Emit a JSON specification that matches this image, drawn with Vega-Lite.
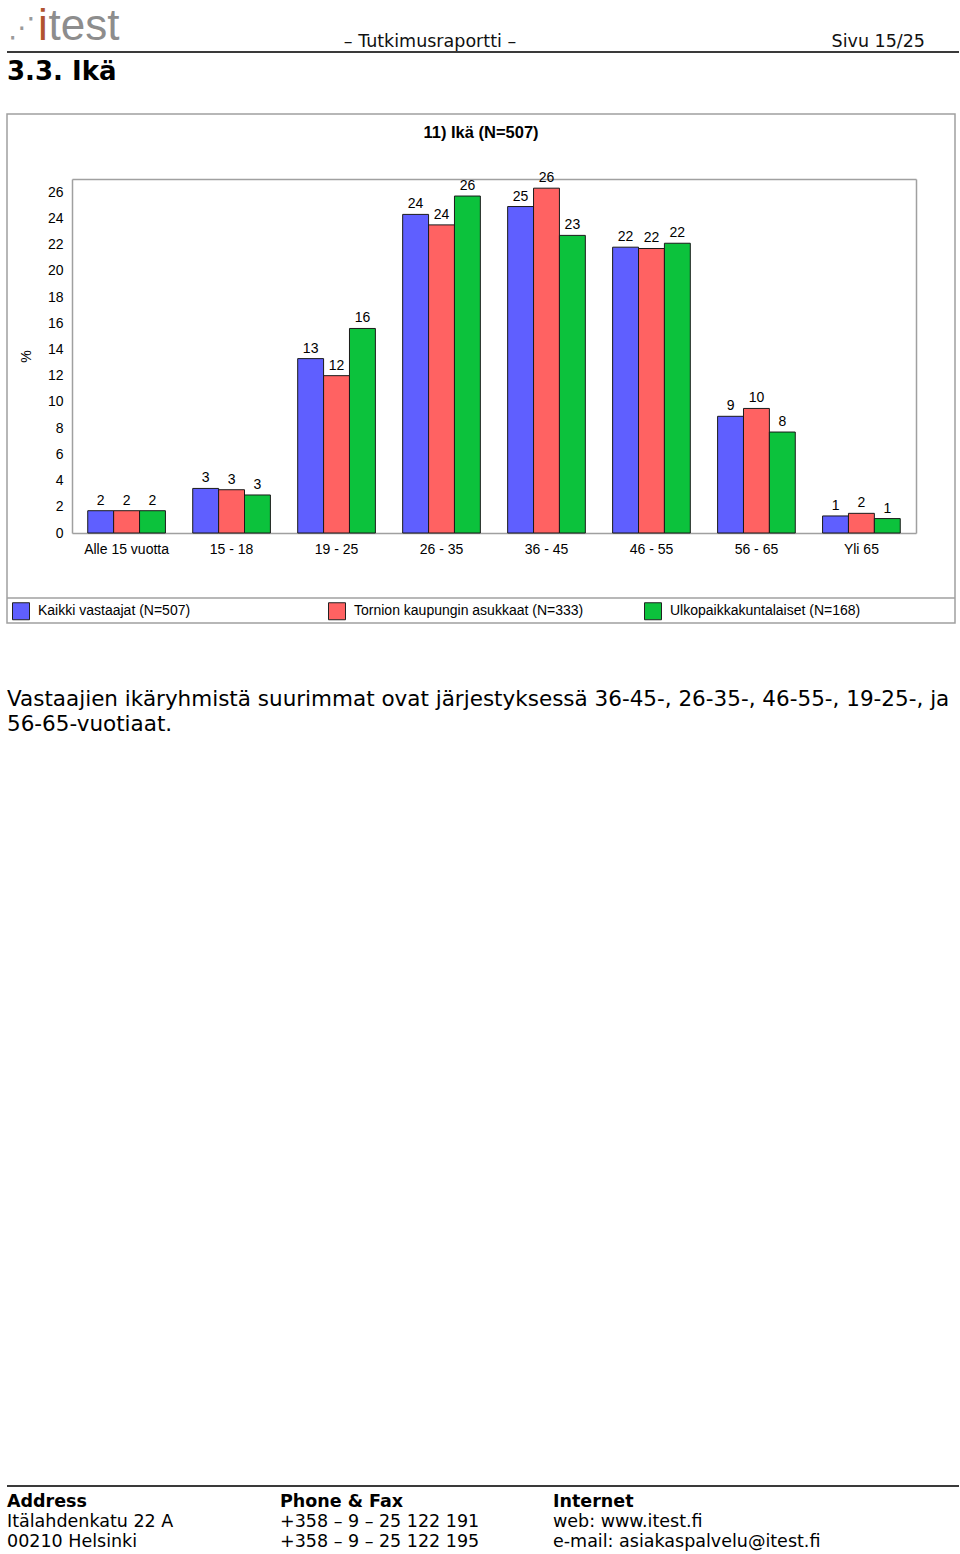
{
  "$schema": "https://vega.github.io/schema/vega-lite/v6.json",
  "padding": {"left": 5, "top": 0, "right": 0, "bottom": 0},
  "background": "white",
  "spacing": 0,
  "bounds": "flush",
  "resolve": {"scale": {"color": "independent"}, "legend": {"color": "independent"}},
  "datasets": {
    "bars": [
      {"age": "Alle 15 vuotta", "group": "Kaikki vastaajat (N=507)", "pct": 1.7, "label": "2"},
      {"age": "Alle 15 vuotta", "group": "Tornion kaupungin asukkaat (N=333)", "pct": 1.7, "label": "2"},
      {"age": "Alle 15 vuotta", "group": "Ulkopaikkakuntalaiset (N=168)", "pct": 1.7, "label": "2"},
      {"age": "15 - 18", "group": "Kaikki vastaajat (N=507)", "pct": 3.4, "label": "3"},
      {"age": "15 - 18", "group": "Tornion kaupungin asukkaat (N=333)", "pct": 3.3, "label": "3"},
      {"age": "15 - 18", "group": "Ulkopaikkakuntalaiset (N=168)", "pct": 2.9, "label": "3"},
      {"age": "19 - 25", "group": "Kaikki vastaajat (N=507)", "pct": 13.3, "label": "13"},
      {"age": "19 - 25", "group": "Tornion kaupungin asukkaat (N=333)", "pct": 12.0, "label": "12"},
      {"age": "19 - 25", "group": "Ulkopaikkakuntalaiset (N=168)", "pct": 15.6, "label": "16"},
      {"age": "26 - 35", "group": "Kaikki vastaajat (N=507)", "pct": 24.3, "label": "24"},
      {"age": "26 - 35", "group": "Tornion kaupungin asukkaat (N=333)", "pct": 23.5, "label": "24"},
      {"age": "26 - 35", "group": "Ulkopaikkakuntalaiset (N=168)", "pct": 25.7, "label": "26"},
      {"age": "36 - 45", "group": "Kaikki vastaajat (N=507)", "pct": 24.9, "label": "25"},
      {"age": "36 - 45", "group": "Tornion kaupungin asukkaat (N=333)", "pct": 26.3, "label": "26"},
      {"age": "36 - 45", "group": "Ulkopaikkakuntalaiset (N=168)", "pct": 22.7, "label": "23"},
      {"age": "46 - 55", "group": "Kaikki vastaajat (N=507)", "pct": 21.8, "label": "22"},
      {"age": "46 - 55", "group": "Tornion kaupungin asukkaat (N=333)", "pct": 21.7, "label": "22"},
      {"age": "46 - 55", "group": "Ulkopaikkakuntalaiset (N=168)", "pct": 22.1, "label": "22"},
      {"age": "56 - 65", "group": "Kaikki vastaajat (N=507)", "pct": 8.9, "label": "9"},
      {"age": "56 - 65", "group": "Tornion kaupungin asukkaat (N=333)", "pct": 9.5, "label": "10"},
      {"age": "56 - 65", "group": "Ulkopaikkakuntalaiset (N=168)", "pct": 7.7, "label": "8"},
      {"age": "Yli 65", "group": "Kaikki vastaajat (N=507)", "pct": 1.3, "label": "1"},
      {"age": "Yli 65", "group": "Tornion kaupungin asukkaat (N=333)", "pct": 1.5, "label": "2"},
      {"age": "Yli 65", "group": "Ulkopaikkakuntalaiset (N=168)", "pct": 1.1, "label": "1"}
    ],
    "page": [
      {"item": "dots", "slot": "left", "row": "logo", "text": "⋰"},
      {"item": "logo", "slot": "left", "row": "logo", "text": "test"},
      {"item": "logoi", "slot": "left", "row": "logo", "text": "i"},
      {"item": "doc", "slot": "mid", "row": "text", "text": "– Tutkimusraportti –"},
      {"item": "pageno", "slot": "right", "row": "text", "text": "Sivu 15/25"},
      {"item": "section", "slot": "left", "row": "text", "text": "3.3. Ikä"},
      {"item": "para", "slot": "left", "row": "1", "text": "Vastaajien ikäryhmistä suurimmat ovat järjestyksessä 36-45-, 26-35-, 46-55-, 19-25-, ja"},
      {"item": "para", "slot": "left", "row": "2", "text": "56-65-vuotiaat."}
    ],
    "footer": [
      {"col": "address", "row": "0", "text": "Address"},
      {"col": "phone", "row": "0", "text": "Phone & Fax"},
      {"col": "internet", "row": "0", "text": "Internet"},
      {"col": "address", "row": "1", "text": "Itälahdenkatu 22 A"},
      {"col": "phone", "row": "1", "text": "+358 – 9 – 25 122 191"},
      {"col": "internet", "row": "1", "text": "web: www.itest.fi"},
      {"col": "address", "row": "2", "text": "00210 Helsinki"},
      {"col": "phone", "row": "2", "text": "+358 – 9 – 25 122 195"},
      {"col": "internet", "row": "2", "text": "e-mail: asiakaspalvelu@itest.fi"}
    ]
  },
  "vconcat": [
    {
      "width": 952, "height": 51,
      "data": {"name": "page"},
      "encoding": {
        "x": {"field": "slot", "type": "nominal", "scale": {"type": "point", "domain": ["left", "mid", "right"], "range": [0, 918], "padding": 0}, "axis": null},
        "y": {"field": "row", "type": "nominal", "scale": {"type": "point", "domain": ["logo", "text"], "range": [40, 47], "padding": 0}, "axis": null},
        "text": {"field": "text"}
      },
      "layer": [
        {"transform": [{"filter": "datum.item == 'dots'"}], "mark": {"type": "text", "align": "left", "baseline": "alphabetic", "font": "DejaVu Sans", "fontSize": 28, "color": "#9a9a9a", "dx": 1, "dy": -3}},
        {"transform": [{"filter": "datum.item == 'logoi'"}], "mark": {"type": "text", "align": "left", "baseline": "alphabetic", "font": "Liberation Sans", "fontSize": 44, "color": "#b0532f", "dx": 31}},
        {"transform": [{"filter": "datum.item == 'logo'"}], "mark": {"type": "text", "align": "left", "baseline": "alphabetic", "font": "Liberation Sans", "fontSize": 44, "color": "#8d8d8d", "dx": 41.5}},
        {"transform": [{"filter": "datum.item == 'doc'"}], "mark": {"type": "text", "align": "center", "baseline": "alphabetic", "font": "DejaVu Sans", "fontSize": 17.5, "color": "#111", "dx": -36}},
        {"transform": [{"filter": "datum.item == 'pageno'"}], "mark": {"type": "text", "align": "right", "baseline": "alphabetic", "font": "DejaVu Sans", "fontSize": 17.5, "color": "#111"}}
      ]
    },
    {
      "width": 952, "height": 2,
      "data": {"values": [{}]},
      "mark": {"type": "point", "opacity": 0},
      "encoding": {},
      "view": {"fill": "#3a3a3a", "stroke": null}
    },
    {
      "width": 952, "height": 61,
      "data": {"name": "page"},
      "transform": [{"filter": "datum.item == 'section'"}],
      "mark": {"type": "text", "align": "left", "baseline": "alphabetic", "font": "DejaVu Sans", "fontSize": 26, "fontWeight": "bold", "color": "#000"},
      "encoding": {
        "x": {"field": "slot", "type": "nominal", "scale": {"type": "point", "domain": ["left", "mid", "right"], "range": [0, 918], "padding": 0}, "axis": null},
        "y": {"field": "row", "type": "nominal", "scale": {"type": "point", "domain": ["text"], "range": [27, 27], "padding": 0}, "axis": null},
        "text": {"field": "text"}
      }
    },
    {
      "width": 948, "height": 509,
      "view": {"stroke": "#a0a0a0", "strokeWidth": 1.5},
      "title": {"text": "11) Ikä (N=507)", "frame": "group", "anchor": "middle", "orient": "top", "offset": -27, "font": "Liberation Sans", "fontSize": 16.5, "fontWeight": "bold", "color": "#000"},
      "data": {"name": "bars"},
      "layer": [
        {
          "mark": {"type": "bar", "stroke": "#1a1a1a", "strokeWidth": 1},
          "encoding": {
            "x": {"field": "age", "type": "nominal", "sort": null,
                  "scale": {"type": "band", "range": [65, 909], "paddingInner": 0.26, "paddingOuter": 0.15},
                  "axis": {"orient": "bottom", "offset": -90, "title": null, "labelAngle": 0, "ticks": false, "labelPadding": 9, "domainColor": "#a0a0a0", "domainWidth": 1.5, "labelFont": "Liberation Sans", "labelFontSize": 14, "labelColor": "#000"}},
            "xOffset": {"field": "group", "type": "nominal", "sort": null, "scale": {"paddingInner": 0, "paddingOuter": 0}},
            "y": {"field": "pct", "type": "quantitative",
                  "scale": {"domain": [0, 27], "range": [419, 65], "nice": false},
                  "axis": {"orient": "left", "offset": -65, "values": [0, 2, 4, 6, 8, 10, 12, 14, 16, 18, 20, 22, 24, 26], "ticks": false, "grid": false, "labelPadding": 9, "domainColor": "#a0a0a0", "domainWidth": 1.5, "labelFont": "Liberation Sans", "labelFontSize": 14, "labelColor": "#000", "title": "%", "titleFont": "Liberation Sans", "titleFontSize": 14, "titleFontWeight": "normal", "titleColor": "#000", "titlePadding": 14}},
            "color": {"field": "group", "type": "nominal", "sort": null,
                      "scale": {"domain": ["Kaikki vastaajat (N=507)", "Tornion kaupungin asukkaat (N=333)", "Ulkopaikkakuntalaiset (N=168)"], "range": ["#5f5fff", "#ff6262", "#0cc23c"]},
                      "legend": {"orient": "bottom-left", "offset": 1, "padding": 0, "direction": "horizontal", "columns": 3, "gridAlign": "all", "columnPadding": 56, "title": null, "symbolType": "square", "symbolSize": 289, "symbolStrokeColor": "#222", "symbolStrokeWidth": 1, "symbolOpacity": 1, "symbolOffset": 4, "labelOffset": 8, "labelLimit": 0, "labelFont": "Liberation Sans", "labelFontSize": 14, "labelColor": "#000"}}
          }
        },
        {
          "mark": {"type": "text", "baseline": "bottom", "dy": -3, "font": "Liberation Sans", "fontSize": 14, "color": "#000"},
          "encoding": {
            "x": {"field": "age", "type": "nominal", "sort": null,
                  "scale": {"type": "band", "range": [65, 909], "paddingInner": 0.26, "paddingOuter": 0.15},
                  "axis": {"orient": "top", "offset": -65, "title": null, "labels": false, "ticks": false, "domainColor": "#a0a0a0", "domainWidth": 1.5}},
            "xOffset": {"field": "group", "type": "nominal", "sort": null, "scale": {"paddingInner": 0, "paddingOuter": 0}},
            "y": {"field": "pct", "type": "quantitative",
                  "scale": {"domain": [0, 27], "range": [419, 65], "nice": false},
                  "axis": {"orient": "right", "offset": -39, "title": null, "labels": false, "ticks": false, "grid": false, "domainColor": "#a0a0a0", "domainWidth": 1.5}},
            "text": {"field": "label"}
          }
        },
        {
          "data": {"values": [{}]},
          "mark": {"type": "rule", "color": "#a0a0a0", "strokeWidth": 1.5},
          "encoding": {
            "y": {"datum": -4.96, "type": "quantitative", "axis": null}
          }
        }
      ],
      "resolve": {"axis": {"x": "independent", "y": "independent"}}
    },
    {
      "width": 952, "height": 862,
      "data": {"name": "page"},
      "transform": [{"filter": "datum.item == 'para'"}],
      "mark": {"type": "text", "align": "left", "baseline": "alphabetic", "font": "DejaVu Sans", "fontSize": 21.5, "color": "#000"},
      "encoding": {
        "x": {"field": "slot", "type": "nominal", "scale": {"type": "point", "domain": ["left", "mid", "right"], "range": [0, 918], "padding": 0}, "axis": null},
        "y": {"field": "row", "type": "nominal", "scale": {"type": "point", "domain": ["1", "2"], "range": [83, 108], "padding": 0}, "axis": null},
        "text": {"field": "text"}
      }
    },
    {
      "width": 952, "height": 2,
      "data": {"values": [{}]},
      "mark": {"type": "point", "opacity": 0},
      "encoding": {},
      "view": {"fill": "#3a3a3a", "stroke": null}
    },
    {
      "width": 952, "height": 67,
      "data": {"name": "footer"},
      "encoding": {
        "x": {"field": "col", "type": "nominal", "scale": {"type": "point", "domain": ["address", "phone", "internet"], "range": [0, 546], "padding": 0}, "axis": null},
        "y": {"field": "row", "type": "nominal", "scale": {"type": "point", "domain": ["0", "1", "2"], "range": [20, 60], "padding": 0}, "axis": null},
        "text": {"field": "text"}
      },
      "layer": [
        {"transform": [{"filter": "datum.row == '0'"}], "mark": {"type": "text", "align": "left", "baseline": "alphabetic", "font": "DejaVu Sans", "fontSize": 17.5, "fontWeight": "bold", "color": "#000"}},
        {"transform": [{"filter": "datum.row != '0'"}], "mark": {"type": "text", "align": "left", "baseline": "alphabetic", "font": "DejaVu Sans", "fontSize": 17.5, "color": "#000"}}
      ]
    }
  ],
  "config": {"view": {"stroke": null}, "font": "Liberation Sans"}
}
